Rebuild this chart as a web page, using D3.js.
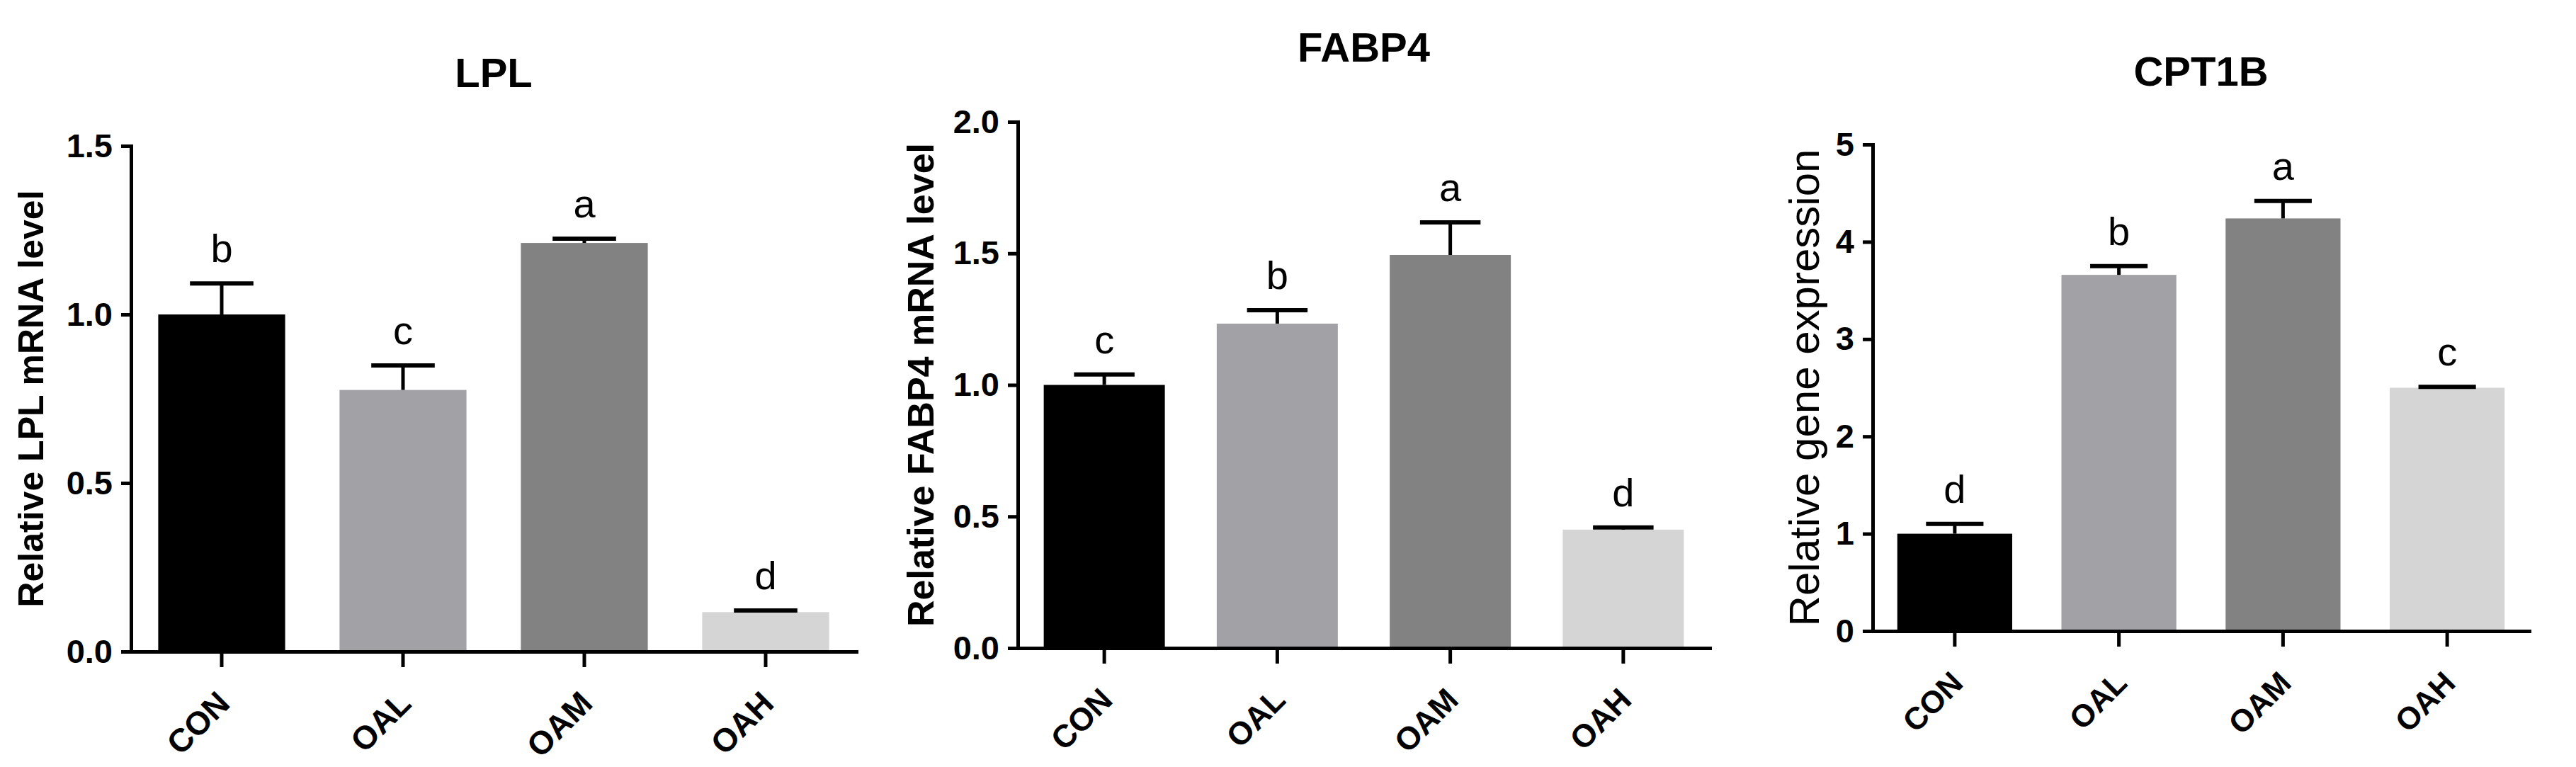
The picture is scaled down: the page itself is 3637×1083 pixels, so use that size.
<!DOCTYPE html>
<html>
<head>
<meta charset="utf-8">
<script src="https://cdn.jsdelivr.net/npm/d3@7"></script>
<style>
  body { margin: 0; background: #fff; }
  svg { display: block; }
</style>
</head>
<body>
<div class="chart-div"></div>
<script>
//--------------------------- Data

var groups = ["CON", "OAL", "OAM", "OAH"];
var barColors = ["#000000", "#a2a1a6", "#828282", "#d5d5d5"];

var lplMean = [1.0, 0.776, 1.212, 0.117];
var lplErr = [0.092, 0.073, 0.013, 0.005];
var lplLetters = ["b", "c", "a", "d"];
var lplTicks = [0, 0.5, 1.0, 1.5];

var fabp4Mean = [1.0, 1.233, 1.494, 0.45];
var fabp4Err = [0.04, 0.051, 0.124, 0.008];
var fabp4Letters = ["c", "b", "a", "d"];
var fabp4Ticks = [0, 0.5, 1.0, 1.5, 2.0];

var cpt1bMean = [1.0, 3.66, 4.24, 2.5];
var cpt1bErr = [0.1, 0.09, 0.18, 0.01];
var cpt1bLetters = ["d", "b", "a", "c"];
var cpt1bTicks = [0, 1, 2, 3, 4, 5];

//--------------------------- SVG definition

var width = 3637;
var height = 1083;
var font = "'Liberation Sans', Arial, sans-serif";

var svg = d3.select("div.chart-div")
    .append("svg")
    .attr("width", width)
    .attr("height", height)
    .style("background", "#fff");

//--------------------------- Panels

var panels = [
    { title: "LPL", mean: lplMean, err: lplErr, letters: lplLetters, ticks: lplTicks, fmt: d3.format(".1f"),
      x0: 185, x1: 1209, yTop: 206, yBase: 920, titleY: 123,
      ylabel: "Relative LPL mRNA level", ylabelX: 44, ylabelSize: 50, ylabelWeight: "bold", xSize: 46 },
    { title: "FABP4", mean: fabp4Mean, err: fabp4Err, letters: fabp4Letters, ticks: fabp4Ticks, fmt: d3.format(".1f"),
      x0: 1437, x1: 2414, yTop: 172, yBase: 915, titleY: 87,
      ylabel: "Relative FABP4 mRNA level", ylabelX: 1300, ylabelSize: 52, ylabelWeight: "bold", xSize: 45 },
    { title: "CPT1B", mean: cpt1bMean, err: cpt1bErr, letters: cpt1bLetters, ticks: cpt1bTicks, fmt: d3.format("d"),
      x0: 2644, x1: 3571, yTop: 204, yBase: 891, titleY: 121,
      ylabel: "Relative gene expression", ylabelX: 2547, ylabelSize: 60, ylabelWeight: "normal", xSize: 44 }
];

panels.forEach(function (p) {

    var x = d3.scaleBand()
        .domain(groups)
        .range([p.x0, p.x1])
        .paddingInner(0.3)
        .paddingOuter(0.15);

    var y = d3.scaleLinear()
        .domain([0, d3.max(p.ticks)])
        .range([p.yBase, p.yTop]);

    var g = svg.append("g");

    //--------------- bars
    g.selectAll("rect.bar")
        .data(groups)
        .enter()
        .append("rect")
        .attr("class", "bar")
        .attr("x", function (d) { return x(d); })
        .attr("y", function (d, i) { return y(p.mean[i]); })
        .attr("width", x.bandwidth())
        .attr("height", function (d, i) { return y(0) - y(p.mean[i]); })
        .style("fill", function (d, i) { return barColors[i]; });

    //--------------- error bars (upper only)
    var cx = function (d) { return x(d) + x.bandwidth() / 2; };
    var capW = x.bandwidth() * 0.5;

    g.selectAll("line.err")
        .data(groups)
        .enter()
        .append("line")
        .attr("x1", cx).attr("x2", cx)
        .attr("y1", function (d, i) { return y(p.mean[i]); })
        .attr("y2", function (d, i) { return y(p.mean[i] + p.err[i]); })
        .style("stroke", "#000")
        .style("stroke-width", 5);

    g.selectAll("line.cap")
        .data(groups)
        .enter()
        .append("line")
        .attr("x1", function (d) { return cx(d) - capW / 2; })
        .attr("x2", function (d) { return cx(d) + capW / 2; })
        .attr("y1", function (d, i) { return y(p.mean[i] + p.err[i]); })
        .attr("y2", function (d, i) { return y(p.mean[i] + p.err[i]); })
        .style("stroke", "#000")
        .style("stroke-width", 6);

    //--------------- significance letters
    g.selectAll("text.sig")
        .data(groups)
        .enter()
        .append("text")
        .attr("x", cx)
        .attr("y", function (d, i) { return y(p.mean[i] + p.err[i]) - 30; })
        .attr("text-anchor", "middle")
        .style("font-family", font)
        .style("font-size", "56px")
        .text(function (d, i) { return p.letters[i]; });

    //--------------- axes
    var yAxis = g.append("g")
        .attr("transform", "translate(" + p.x0 + ",0)")
        .call(d3.axisLeft(y).tickValues(p.ticks).tickFormat(p.fmt).tickSize(14).tickSizeOuter(0).tickPadding(12));

    var xAxis = g.append("g")
        .attr("transform", "translate(0," + p.yBase + ")")
        .call(d3.axisBottom(x).tickSize(22).tickSizeOuter(0));

    [yAxis, xAxis].forEach(function (a) {
        a.select(".domain").style("stroke", "#000").style("stroke-width", 5).style("stroke-linecap", "square");
        a.selectAll(".tick line").style("stroke", "#000").style("stroke-width", 5);
    });

    yAxis.selectAll("text")
        .style("font-family", font)
        .style("font-size", "47px")
        .style("font-weight", "bold")
        .style("fill", "#000");

    xAxis.selectAll("text")
        .attr("x", 0).attr("y", 0).attr("dy", 0)
        .attr("transform", "translate(14,76) rotate(-45)")
        .style("text-anchor", "end")
        .style("font-family", font)
        .style("font-size", p.xSize + "px")
        .style("font-weight", "bold")
        .style("fill", "#000");

    //--------------- title and y label
    g.append("text")
        .attr("x", (p.x0 + p.x1) / 2)
        .attr("y", p.titleY)
        .attr("text-anchor", "middle")
        .style("font-family", font)
        .style("font-size", "58px")
        .style("font-weight", "bold")
        .text(p.title);

    g.append("text")
        .attr("transform", "translate(" + p.ylabelX + "," + ((p.yTop + p.yBase) / 2) + ") rotate(-90)")
        .attr("text-anchor", "middle")
        .attr("dominant-baseline", "central")
        .style("font-family", font)
        .style("font-size", p.ylabelSize + "px")
        .style("font-weight", p.ylabelWeight)
        .text(p.ylabel);
});
</script>
</body>
</html>
